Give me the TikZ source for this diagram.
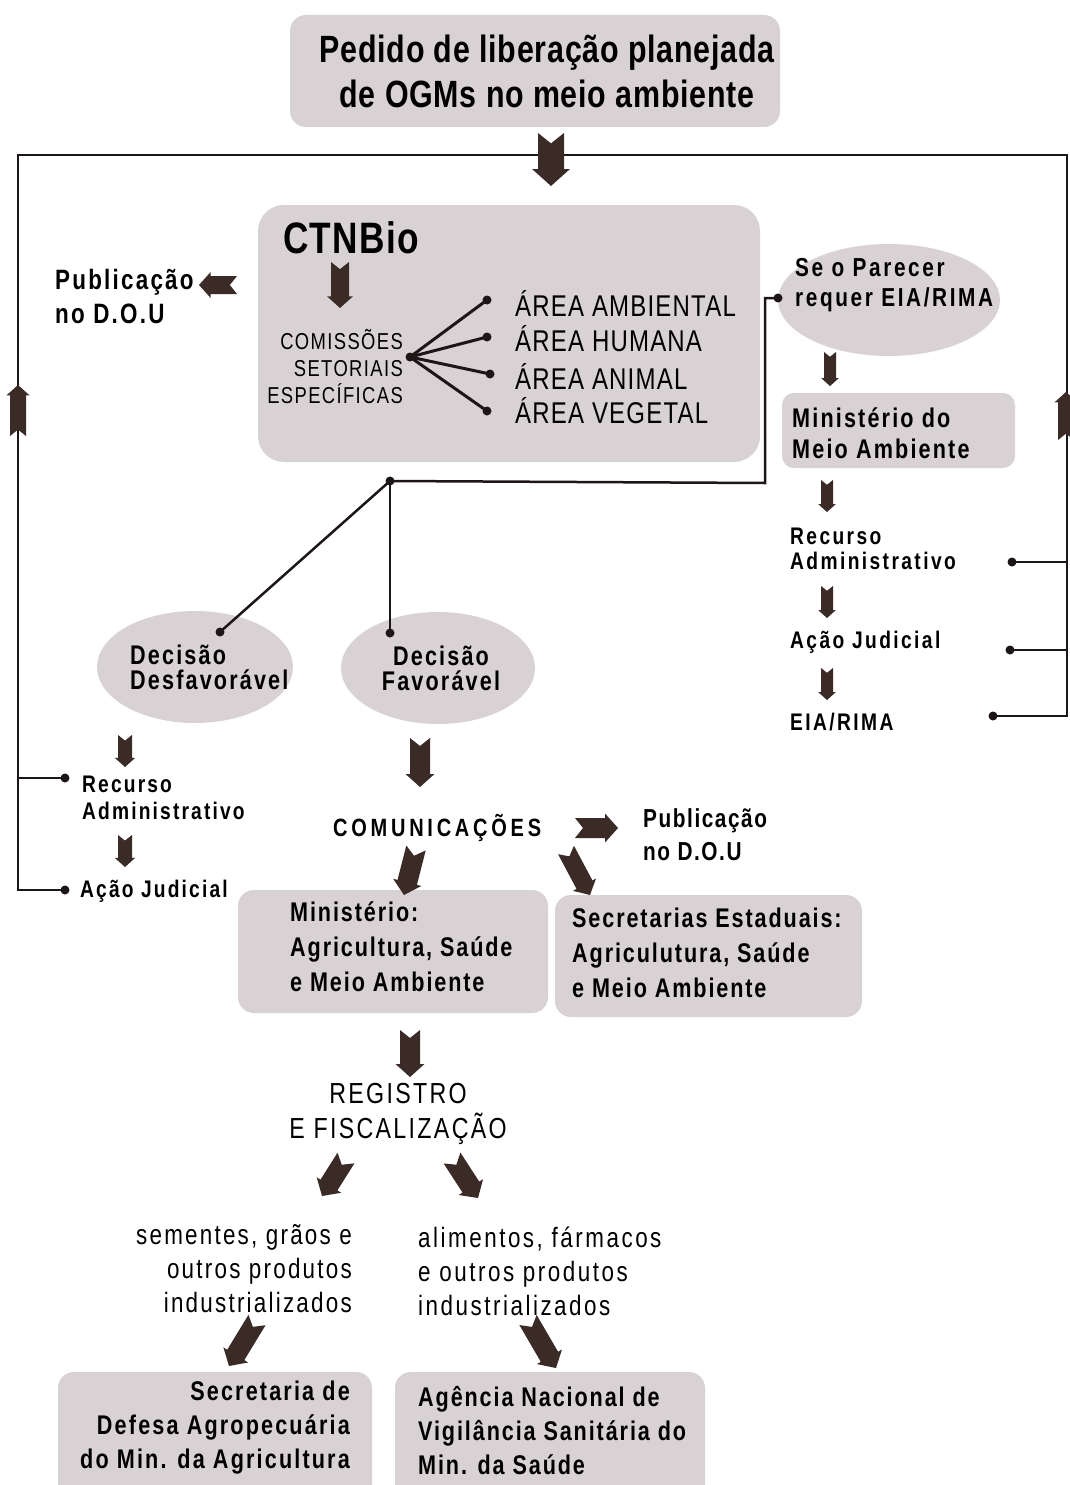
\documentclass[tikz,border=0pt]{standalone}
\usepackage{fontspec}
\setmainfont{Liberation Sans}[FakeStretch=0.8]
\usetikzlibrary{calc,shapes.geometric}
\definecolor{boxfill}{HTML}{D9D2D4}
\definecolor{arrowcol}{HTML}{3A2B27}
\definecolor{linecol}{HTML}{1C1616}
\newcommand\myfs[3]{\fontsize{#1}{#2}\selectfont\addfontfeature{LetterSpace=#3}}
\newcommand\fatarr[3][8]{%
  \pgfmathsetmacro\faw{#1}%
  \pgfmathsetmacro\fah{1.45*#1}%
  \pgfmathsetmacro\fal{1.3*#1}%
  \pgfmathsetmacro\fan{0.8*#1}%
  \path (#2) coordinate (fa-s) (#3) coordinate (fa-e);
  \path ($(fa-e)!\fal pt!(fa-s)$) coordinate (fa-h);
  \fill[arrowcol] ($(fa-s)!\faw pt!90:(fa-e)$) -- ($(fa-s)!\fan pt!(fa-e)$) -- ($(fa-s)!\faw pt!-90:(fa-e)$) -- ($(fa-h)!\faw pt!-90:(fa-e)$) -- ($(fa-h)!\fah pt!-90:(fa-e)$) -- (fa-e) -- ($(fa-h)!\fah pt!90:(fa-e)$) -- ($(fa-h)!\faw pt!90:(fa-e)$) -- cycle;}
\newcommand\dotat[1]{\fill[linecol] (#1) circle (4.5pt);}
\tikzset{
  boxnode/.style={fill=boxfill, rounded corners=16pt, inner sep=0pt},
  ellnode/.style={ellipse, fill=boxfill, inner sep=0pt},
  txt/.style={inner sep=0pt, text=black},
  conn/.style={draw=linecol, line width=2.5pt},
}
\begin{document}
\begin{tikzpicture}[x=1pt,y=-1pt]
\useasboundingbox (0,0) rectangle (1070,1485);
\fill[white] (0,0) rectangle (1070,1485);

% ---------- boxes and ellipses ----------
\node[boxnode, minimum width=490pt, minimum height=112pt] (titlebox) at (535,71) {};
\node[txt, align=center, font=\bfseries\myfs{38}{45}{2}] (title) at (547,71)
      {Pedido de liberação planejada\\de OGMs no meio ambiente};
\node[boxnode, rounded corners=26pt, minimum width=502pt, minimum height=257pt] (ctnbox) at (509,333.5) {};
\node[ellnode, minimum width=222pt, minimum height=112pt] (parecer) at (889,300) {};
\node[boxnode, rounded corners=12pt, minimum width=233pt, minimum height=75pt] (mmabox) at (898.5,430.5) {};
\node[ellnode, minimum width=196pt, minimum height=112pt] (desf) at (195,667) {};
\node[ellnode, minimum width=194pt, minimum height=112pt] (fav) at (438,668) {};
\node[boxnode, minimum width=310pt, minimum height=123pt] (minbox) at (393,951.5) {};
\node[boxnode, minimum width=307pt, minimum height=122pt] (secbox) at (708.5,956) {};
\node[boxnode, minimum width=314pt, minimum height=130pt] (sdabox) at (215,1437) {};
\node[boxnode, minimum width=310pt, minimum height=130pt] (anvbox) at (550,1437) {};

% ---------- texts ----------
\node[txt, anchor=west, font=\bfseries\myfs{44}{44}{3}] (ctn) at (283,238) {CTNBio};
\node[txt, anchor=east, align=right, font=\myfs{23}{27}{6}] (comm) at (403,367) {COMISSÕES\\SETORIAIS\\ESPECÍFICAS};
\node[txt, anchor=west, font=\myfs{30}{30}{4}] (aamb) at (515,303) {ÁREA AMBIENTAL};
\node[txt, anchor=west, font=\myfs{30}{30}{4}] (ahum) at (515,339) {ÁREA HUMANA};
\node[txt, anchor=west, font=\myfs{30}{30}{4}] (aani) at (515,376) {ÁREA ANIMAL};
\node[txt, anchor=west, font=\myfs{30}{30}{4}] (aveg) at (515,411) {ÁREA VEGETAL};
\node[txt, anchor=west, align=left, font=\bfseries\myfs{28}{34}{8}] (pub1) at (55,296) {Publicação\\no D.O.U};
\node[txt, anchor=west, align=left, font=\bfseries\myfs{26}{30}{10}] (parecertxt) at (795,285) {Se o Parecer\\requer EIA/RIMA};
\node[txt, anchor=west, align=left, font=\bfseries\myfs{27}{31}{8}] (mmatxt) at (792,433) {Ministério do\\Meio Ambiente};
\node[txt, anchor=west, align=left, font=\bfseries\myfs{24}{25}{10}] (recR) at (790,549) {Recurso\\Administrativo};
\node[txt, anchor=west, font=\bfseries\myfs{24}{25}{10}] (acaoR) at (790,642) {Ação Judicial};
\node[txt, anchor=west, font=\bfseries\myfs{24}{25}{10}] (eia) at (790,722) {EIA/RIMA};
\node[txt, anchor=west, align=left, font=\bfseries\myfs{27}{25}{8}] (desftxt) at (130,667) {Decisão\\Desfavorável};
\node[txt, align=center, font=\bfseries\myfs{27}{25}{8}] (favtxt) at (441,668) {Decisão\\Favorável};
\node[txt, anchor=west, align=left, font=\bfseries\myfs{24}{27}{9}] (recL) at (82,798) {Recurso\\Administrativo};
\node[txt, anchor=west, font=\bfseries\myfs{24}{27}{9}] (acaoL) at (80,891) {Ação Judicial};
\node[txt, anchor=west, font=\bfseries\myfs{25}{25}{15}] (comun) at (333,828) {COMUNICAÇÕES};
\node[txt, anchor=west, align=left, font=\bfseries\myfs{26}{33}{6}] (pub2) at (643,835) {Publicação\\no D.O.U};
\node[txt, anchor=west, align=left, font=\bfseries\myfs{27}{35}{7}] (mintxt) at (290,947) {Ministério:\\Agricultura, Saúde\\e Meio Ambiente};
\node[txt, anchor=west, align=left, font=\bfseries\myfs{27}{35}{7}] (sectxt) at (572,953) {Secretarias Estaduais:\\Agriculutura, Saúde\\e Meio Ambiente};
\node[txt, align=center, font=\myfs{29}{35}{8}] (reg) at (398,1114) {REGISTRO\\E FISCALIZAÇÃO};
\node[txt, anchor=east, align=right, font=\myfs{28}{34}{8}] (sem) at (352,1269) {sementes, grãos e\\outros produtos\\industrializados};
\node[txt, anchor=west, align=left, font=\myfs{28}{34}{9}] (ali) at (418,1271) {alimentos, fármacos\\e outros produtos\\industrializados};
\node[txt, anchor=east, align=right, font=\bfseries\myfs{27}{34}{8}] (sdatxt) at (350,1428) {Secretaria de\\Defesa Agropecuária\\do Min. da Agricultura};
\node[txt, anchor=west, align=left, font=\bfseries\myfs{27}{34}{7}] (anvtxt) at (418,1431) {Agência Nacional de\\Vigilância Sanitária do\\Min. da Saúde};

% ---------- thin connectors ----------
\coordinate (tl) at (18,155);
\coordinate (tr) at (1067,155);
\coordinate (lrec) at (65,778);
\coordinate (lacao) at (65,890);
\coordinate (rrec) at (1012,562);
\coordinate (racao) at (1010,650);
\coordinate (reia) at (993,716);
\draw[conn] (lacao) -| (tl) -- (tr) |- (reia);
\draw[conn] (lrec) -- (lrec -| tl);
\draw[conn] (rrec) -- (rrec -| tr);
\draw[conn] (racao) -- (racao -| tr);
\foreach \p in {lrec,lacao,rrec,racao,reia} {\dotat{\p}}

\coordinate (hub) at (410,357);
\coordinate (d1) at (487,300);
\coordinate (d2) at (487,337);
\coordinate (d3) at (490,374);
\coordinate (d4) at (487,411);
\foreach \p in {d1,d2,d3,d4} {\draw[conn, line width=3pt] (hub) -- (\p); \dotat{\p}}
\dotat{hub}

\coordinate (split) at (390,481);
\coordinate (corner) at (765,483);
\coordinate (pend) at (778,298);
\coordinate (desfdot) at (220,632);
\coordinate (favdot) at (390,633);
\draw[conn] (split) -- (corner) |- (pend);
\dotat{pend}
\draw[conn] (split) -- (desfdot);
\draw[conn] (split) -- (favdot);
\foreach \p in {split,desfdot,favdot} {\dotat{\p}}

% ---------- fat arrows ----------
\fatarr[13]{551,133}{551,186}
\fatarr[9]{340,262}{340,308}
\fatarr[9]{237,285}{199,285}
\fatarr[8]{18,436}{18,385}
\fatarr[8]{1066,440}{1066,392}
\fatarr[6]{830,352}{830,386}
\fatarr[6]{827,480}{827,512}
\fatarr[6]{827,586}{827,618}
\fatarr[6]{827,668}{827,700}
\fatarr[7]{125,735}{125,767}
\fatarr[7]{125,835}{125,867}
\fatarr[10]{420,738}{420,787}
\fatarr[10]{575,828}{618,828}
\fatarr[10]{416,848}{404,895}
\fatarr[9]{566,850}{590,895}
\fatarr[10]{410,1030}{410,1077}
\fatarr[10]{346,1158}{322,1196}
\fatarr[10]{452,1158}{478,1198}
\fatarr[10]{257,1320}{229,1366}
\fatarr[10]{528,1320}{556,1368}
\end{tikzpicture}
\end{document}
